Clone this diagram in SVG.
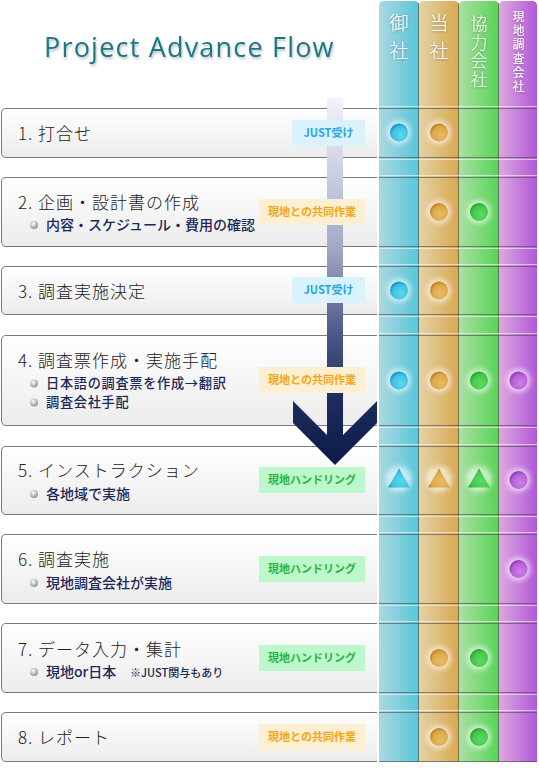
<svg xmlns="http://www.w3.org/2000/svg" width="539" height="770" viewBox="0 0 539 770">
<style>
.jp{font-family:"Noto Sans CJK JP","Noto Sans",sans-serif}
.ttl{font-size:17px;fill:#222;letter-spacing:1px;font-weight:300}
.sub{font-size:14px;fill:#1c2858;font-weight:500}
.sub2{font-size:13.2px;letter-spacing:.7px}
.note{font-size:11px;fill:#1c2858;font-weight:500}
.bdg{font-size:11px;font-weight:700;text-anchor:middle}
.vt{writing-mode:vertical-rl;fill:#fff;filter:url(#ts);font-weight:300}
.hdr{font-size:19px;letter-spacing:9.5px}
.hdr3{font-size:17px;letter-spacing:1.7px}
.hdr4{font-size:12px;letter-spacing:2px;font-weight:400}
.box{fill:url(#rowg);stroke:none}
.edge{fill:none;stroke:#7a7a7a;stroke-width:1}
.bul{fill:url(#bulg)}
.ln{stroke:#4a4a4a;stroke-opacity:.6;stroke-width:1}
.lh{stroke:#fff;stroke-opacity:.55;stroke-width:1}
.halo{fill:#fff;opacity:.6;filter:url(#blur)}
.div{stroke:#5a5a50;stroke-opacity:.7;stroke-width:1}
</style>
<defs>
<linearGradient id="rowg" x1="0" y1="0" x2="0" y2="1"><stop offset="0" stop-color="#ffffff"/><stop offset="1" stop-color="#ececec"/></linearGradient>
<radialGradient id="bulg" cx=".4" cy=".35" r=".7"><stop offset="0" stop-color="#ffffff"/><stop offset="1" stop-color="#8a8a8a"/></radialGradient>
<linearGradient id="c1" x1="0" y1="0" x2="1" y2="0"><stop offset="0" stop-color="#acd8e0"/><stop offset="1" stop-color="#56c6da"/></linearGradient>
<linearGradient id="c2" x1="0" y1="0" x2="1" y2="0"><stop offset="0" stop-color="#e4d2a4"/><stop offset="1" stop-color="#d8a850"/></linearGradient>
<linearGradient id="c3" x1="0" y1="0" x2="1" y2="0"><stop offset="0" stop-color="#aae0a4"/><stop offset="1" stop-color="#56d456"/></linearGradient>
<linearGradient id="c4" x1="0" y1="0" x2="1" y2="0"><stop offset="0" stop-color="#dea8e0"/><stop offset="1" stop-color="#b058d8"/></linearGradient>
<radialGradient id="d1" cx=".6" cy=".65" r=".65"><stop offset="0" stop-color="#5cd8ee"/><stop offset=".7" stop-color="#3cc2e0"/><stop offset="1" stop-color="#1890c2"/></radialGradient>
<radialGradient id="d2" cx=".6" cy=".65" r=".65"><stop offset="0" stop-color="#eabc68"/><stop offset=".7" stop-color="#dca848"/><stop offset="1" stop-color="#c08024"/></radialGradient>
<radialGradient id="d3" cx=".6" cy=".65" r=".65"><stop offset="0" stop-color="#60da64"/><stop offset=".7" stop-color="#44c84a"/><stop offset="1" stop-color="#28a030"/></radialGradient>
<radialGradient id="d4" cx=".6" cy=".65" r=".65"><stop offset="0" stop-color="#cc80e4"/><stop offset=".7" stop-color="#b860d8"/><stop offset="1" stop-color="#9038b8"/></radialGradient>
<linearGradient id="arw" gradientUnits="userSpaceOnUse" x1="0" y1="98" x2="0" y2="465"><stop offset="0" stop-color="#f2f3fa"/><stop offset=".4" stop-color="#a4abc8"/><stop offset=".65" stop-color="#4a5686"/><stop offset=".82" stop-color="#1e2c5e"/><stop offset="1" stop-color="#0c1a48"/></linearGradient>
<filter id="blur" x="-50%" y="-50%" width="200%" height="200%"><feGaussianBlur stdDeviation="2.5"/></filter>
<filter id="ts" x="-30%" y="-10%" width="160%" height="120%"><feDropShadow dx="0" dy="0.5" stdDeviation="0.8" flood-color="#000" flood-opacity=".35"/></filter>
<filter id="tts" x="-5%" y="-20%" width="110%" height="160%"><feDropShadow dx="1" dy="2" stdDeviation="1" flood-color="#000" flood-opacity=".25"/></filter>
</defs>

<rect width="539" height="770" fill="#fff"/>

<text x="44" y="57" font-family="'Open Sans','Noto Sans',sans-serif" font-size="27" letter-spacing="1.2" fill="#1a7888" filter="url(#tts)">Project Advance Flow</text>

<g id="columns">
<path d="M379,762 V6 Q379,1 384,1 H414 Q419,1 419,6 V762 Z" fill="url(#c1)"/>
<path d="M419,762 V6 Q419,1 424,1 H454 Q459,1 459,6 V762 Z" fill="url(#c2)"/>
<path d="M459,762 V6 Q459,1 464,1 H494 Q499,1 499,6 V762 Z" fill="url(#c3)"/>
<path d="M499,762 V6 Q499,1 504,1 H532 Q537,1 537,6 V762 Z" fill="url(#c4)"/>
<line class="div" x1="418.5" y1="3" x2="418.5" y2="762"/>
<line class="div" x1="458.5" y1="3" x2="458.5" y2="762"/>
<line class="div" x1="498.5" y1="3" x2="498.5" y2="762"/>
<g id="col-lines">
<line class="lh" x1="379" y1="106.5" x2="537" y2="106.5"/><line class="ln" x1="379" y1="108.5" x2="537" y2="108.5"/>
<line class="ln" x1="379" y1="157.5" x2="537" y2="157.5"/><line class="lh" x1="379" y1="159.5" x2="537" y2="159.5"/>
<line class="lh" x1="379" y1="175.5" x2="537" y2="175.5"/><line class="ln" x1="379" y1="177.5" x2="537" y2="177.5"/>
<line class="ln" x1="379" y1="246.5" x2="537" y2="246.5"/><line class="lh" x1="379" y1="248.5" x2="537" y2="248.5"/>
<line class="lh" x1="379" y1="264.5" x2="537" y2="264.5"/><line class="ln" x1="379" y1="266.5" x2="537" y2="266.5"/>
<line class="ln" x1="379" y1="314.5" x2="537" y2="314.5"/><line class="lh" x1="379" y1="316.5" x2="537" y2="316.5"/>
<line class="lh" x1="379" y1="333.5" x2="537" y2="333.5"/><line class="ln" x1="379" y1="335.5" x2="537" y2="335.5"/>
<line class="ln" x1="379" y1="425.5" x2="537" y2="425.5"/><line class="lh" x1="379" y1="427.5" x2="537" y2="427.5"/>
<line class="lh" x1="379" y1="444.5" x2="537" y2="444.5"/><line class="ln" x1="379" y1="446.5" x2="537" y2="446.5"/>
<line class="ln" x1="379" y1="514.5" x2="537" y2="514.5"/><line class="lh" x1="379" y1="516.5" x2="537" y2="516.5"/>
<line class="lh" x1="379" y1="532.5" x2="537" y2="532.5"/><line class="ln" x1="379" y1="534.5" x2="537" y2="534.5"/>
<line class="ln" x1="379" y1="603.5" x2="537" y2="603.5"/><line class="lh" x1="379" y1="605.5" x2="537" y2="605.5"/>
<line class="lh" x1="379" y1="621.5" x2="537" y2="621.5"/><line class="ln" x1="379" y1="623.5" x2="537" y2="623.5"/>
<line class="ln" x1="379" y1="692.5" x2="537" y2="692.5"/><line class="lh" x1="379" y1="694.5" x2="537" y2="694.5"/>
<line class="lh" x1="379" y1="710.5" x2="537" y2="710.5"/><line class="ln" x1="379" y1="712.5" x2="537" y2="712.5"/>
<line class="ln" x1="379" y1="761.5" x2="537" y2="761.5"/>
</g>
<g id="col-headers" class="jp">
<text class="vt hdr" x="399" y="13">御社</text>
<text class="vt hdr" x="439" y="13">当社</text>
<text class="vt hdr3" x="479" y="15">協力会社</text>
<text class="vt hdr4" x="518.5" y="10">現地調査会社</text>
</g>
</g>

<g id="row1">
<path class="box" d="M377,108.5 H6 Q1.5,108.5 1.5,113 V152 Q1.5,157.5 6,157.5 H377 Z"/>
<path class="edge" d="M377,108.5 H6 Q1.5,108.5 1.5,113 V152 Q1.5,157.5 6,157.5 H377"/>
<text class="jp ttl" x="18" y="140">1. 打合せ</text>
</g>
<g id="row2">
<path class="box" d="M377,177.5 H6 Q1.5,177.5 1.5,182 V241 Q1.5,246.5 6,246.5 H377 Z"/>
<path class="edge" d="M377,177.5 H6 Q1.5,177.5 1.5,182 V241 Q1.5,246.5 6,246.5 H377"/>
<text class="jp ttl" x="18" y="209">2. 企画・設計書の作成</text>
<circle class="bul" cx="34" cy="225" r="4"/>
<text class="jp sub" x="46" y="230">内容・スケジュール・費用の確認</text>
</g>
<g id="row3">
<path class="box" d="M377,266.5 H6 Q1.5,266.5 1.5,271 V309 Q1.5,314.5 6,314.5 H377 Z"/>
<path class="edge" d="M377,266.5 H6 Q1.5,266.5 1.5,271 V309 Q1.5,314.5 6,314.5 H377"/>
<text class="jp ttl" x="18" y="298">3. 調査実施決定</text>
</g>
<g id="row4">
<path class="box" d="M377,335.5 H6 Q1.5,335.5 1.5,340 V420 Q1.5,425.5 6,425.5 H377 Z"/>
<path class="edge" d="M377,335.5 H6 Q1.5,335.5 1.5,340 V420 Q1.5,425.5 6,425.5 H377"/>
<text class="jp ttl" x="18" y="367">4. 調査票作成・実施手配</text>
<circle class="bul" cx="34" cy="383.5" r="4"/>
<circle class="bul" cx="34" cy="402.5" r="4"/>
<text class="jp sub sub2" x="46" y="388">日本語の調査票を作成→翻訳</text>
<text class="jp sub sub2" x="46" y="407.3">調査会社手配</text>
</g>
<g id="row5">
<path class="box" d="M377,446.5 H6 Q1.5,446.5 1.5,451 V509 Q1.5,514.5 6,514.5 H377 Z"/>
<path class="edge" d="M377,446.5 H6 Q1.5,446.5 1.5,451 V509 Q1.5,514.5 6,514.5 H377"/>
<text class="jp ttl" x="18" y="477">5. インストラクション</text>
<circle class="bul" cx="34" cy="494" r="4"/>
<text class="jp sub" x="46" y="499">各地域で実施</text>
</g>
<g id="row6">
<path class="box" d="M377,534.5 H6 Q1.5,534.5 1.5,539 V598 Q1.5,603.5 6,603.5 H377 Z"/>
<path class="edge" d="M377,534.5 H6 Q1.5,534.5 1.5,539 V598 Q1.5,603.5 6,603.5 H377"/>
<text class="jp ttl" x="18" y="566">6. 調査実施</text>
<circle class="bul" cx="34" cy="583" r="4"/>
<text class="jp sub" x="46" y="588">現地調査会社が実施</text>
</g>
<g id="row7">
<path class="box" d="M377,623.5 H6 Q1.5,623.5 1.5,628 V687 Q1.5,692.5 6,692.5 H377 Z"/>
<path class="edge" d="M377,623.5 H6 Q1.5,623.5 1.5,628 V687 Q1.5,692.5 6,692.5 H377"/>
<text class="jp ttl" x="18" y="656">7. データ入力・集計</text>
<circle class="bul" cx="34" cy="672" r="4"/>
<text class="jp sub" x="46" y="677">現地or日本</text>
<text class="jp note" x="130" y="677">※JUST関与もあり</text>
</g>
<g id="row8">
<path class="box" d="M377,712.5 H6 Q1.5,712.5 1.5,717 V756 Q1.5,761.5 6,761.5 H377 Z"/>
<path class="edge" d="M377,712.5 H6 Q1.5,712.5 1.5,717 V756 Q1.5,761.5 6,761.5 H377"/>
<text class="jp ttl" x="18" y="744">8. レポート</text>
</g>

<g id="flow-arrow">
<polygon points="327,98 343,98 343,435 377,401 377,423 335,465 293,423 293,401 327,435" fill="url(#arw)"/>
</g>

<g id="badges" class="jp">
<rect x="292" y="120" width="73" height="26" fill="#daf2fc"/><text class="bdg" x="328.5" y="137" fill="#27a6e4">JUST受け</text>
<rect x="259" y="199" width="106" height="26" fill="#fcefd2"/><text class="bdg" x="312" y="216" fill="#f5a512">現地との共同作業</text>
<rect x="292" y="277" width="73" height="26" fill="#daf2fc"/><text class="bdg" x="328.5" y="294" fill="#27a6e4">JUST受け</text>
<rect x="259" y="367" width="106" height="26" fill="#fcefd2"/><text class="bdg" x="312" y="384" fill="#f5a512">現地との共同作業</text>
<rect x="259" y="467" width="106" height="26" fill="#bdf7cc"/><text class="bdg" x="312" y="484" fill="#25b640">現地ハンドリング</text>
<rect x="259" y="556" width="106" height="26" fill="#bdf7cc"/><text class="bdg" x="312" y="573" fill="#25b640">現地ハンドリング</text>
<rect x="259" y="645" width="106" height="26" fill="#bdf7cc"/><text class="bdg" x="312" y="662" fill="#25b640">現地ハンドリング</text>
<rect x="259" y="724" width="106" height="26" fill="#fcefd2"/><text class="bdg" x="312" y="741" fill="#f5a512">現地との共同作業</text>
</g>

<g id="marks">
<circle class="halo" cx="399" cy="132.5" r="12"/><circle cx="399" cy="132.5" r="9" fill="url(#d1)"/>
<circle class="halo" cx="439" cy="132.5" r="12"/><circle cx="439" cy="132.5" r="9" fill="url(#d2)"/>
<circle class="halo" cx="439" cy="212" r="12"/><circle cx="439" cy="212" r="9" fill="url(#d2)"/>
<circle class="halo" cx="479" cy="212" r="12"/><circle cx="479" cy="212" r="9" fill="url(#d3)"/>
<circle class="halo" cx="399" cy="290.5" r="12"/><circle cx="399" cy="290.5" r="9" fill="url(#d1)"/>
<circle class="halo" cx="439" cy="290.5" r="12"/><circle cx="439" cy="290.5" r="9" fill="url(#d2)"/>
<circle class="halo" cx="399" cy="380.5" r="12"/><circle cx="399" cy="380.5" r="9" fill="url(#d1)"/>
<circle class="halo" cx="439" cy="380.5" r="12"/><circle cx="439" cy="380.5" r="9" fill="url(#d2)"/>
<circle class="halo" cx="479" cy="380.5" r="12"/><circle cx="479" cy="380.5" r="9" fill="url(#d3)"/>
<circle class="halo" cx="518.5" cy="380.5" r="12"/><circle cx="518.5" cy="380.5" r="9" fill="url(#d4)"/>
<circle class="halo" cx="399" cy="479" r="13"/><polygon points="399,468.5 388,487.5 410,487.5" fill="url(#d1)"/>
<circle class="halo" cx="439" cy="479" r="13"/><polygon points="439,468.5 428,487.5 450,487.5" fill="url(#d2)"/>
<circle class="halo" cx="479" cy="479" r="13"/><polygon points="479,468.5 468,487.5 490,487.5" fill="url(#d3)"/>
<circle class="halo" cx="518.5" cy="480" r="12"/><circle cx="518.5" cy="480" r="9" fill="url(#d4)"/>
<circle class="halo" cx="518.5" cy="569" r="12"/><circle cx="518.5" cy="569" r="9" fill="url(#d4)"/>
<circle class="halo" cx="439" cy="658" r="12"/><circle cx="439" cy="658" r="9" fill="url(#d2)"/>
<circle class="halo" cx="479" cy="658" r="12"/><circle cx="479" cy="658" r="9" fill="url(#d3)"/>
<circle class="halo" cx="439" cy="737" r="12"/><circle cx="439" cy="737" r="9" fill="url(#d2)"/>
<circle class="halo" cx="479" cy="737" r="12"/><circle cx="479" cy="737" r="9" fill="url(#d3)"/>
</g>
</svg>
